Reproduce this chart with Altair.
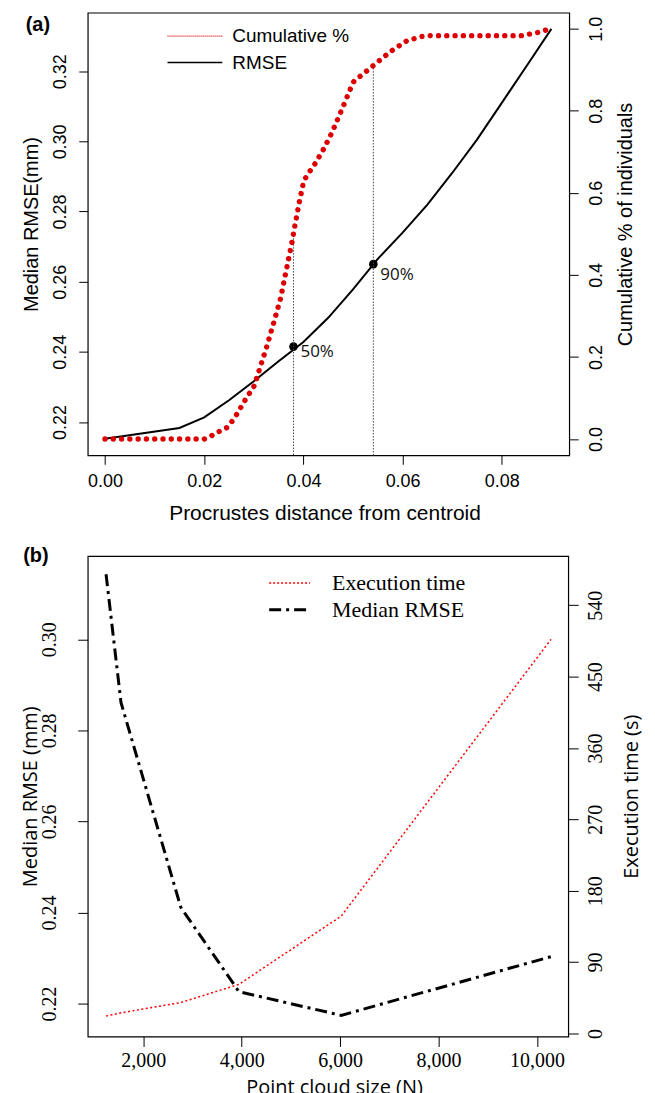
import altair as alt
import pandas as pd

# ---------------- Panel (a) data ----------------
rmse_dist = [0.000, 0.015, 0.020, 0.025, 0.030, 0.035, 0.040, 0.045, 0.050,
             0.055, 0.060, 0.065, 0.070, 0.075, 0.080, 0.085, 0.090]
rmse_vals = [0.2152, 0.2183, 0.2213, 0.2262, 0.2316, 0.2373, 0.2428, 0.2497, 0.2578,
             0.2665, 0.2740, 0.2820, 0.2910, 0.3005, 0.3110, 0.3215, 0.3321]

cum_dist = [0.0, 0.0200, 0.0216, 0.0231, 0.0246, 0.0256, 0.0265, 0.0283, 0.0301, 0.0311,
            0.0326, 0.0340, 0.0354, 0.0367, 0.0377, 0.0383, 0.0392, 0.0399, 0.0405, 0.0424,
            0.0441, 0.0456, 0.0469, 0.0482, 0.0495, 0.0502, 0.0528, 0.0554, 0.0580, 0.0608,
            0.0639, 0.0656, 0.0840, 0.0874, 0.0890, 0.0901]
cum_vals = [0.0, 0.0, 0.009, 0.019, 0.028, 0.043, 0.059, 0.096, 0.130, 0.168,
            0.225, 0.283, 0.343, 0.421, 0.480, 0.521, 0.579, 0.619, 0.638, 0.672,
            0.707, 0.743, 0.779, 0.816, 0.854, 0.872, 0.897, 0.923, 0.948, 0.970,
            0.981, 0.983, 0.983, 0.991, 0.997, 1.0]

marker_dist = [0.0380, 0.0541]
marker_rmse = [0.2415, 0.2650]
marker_cum = [0.504, 0.911]
marker_labels = ["50%", "90%"]

legend_a = ["Cumulative %", "RMSE"]
axis_a = {"x": "Procrustes distance from centroid", "left": "Median RMSE(mm)",
          "right": "Cumulative % of individuals"}
x_ticks_a = [0.0, 0.02, 0.04, 0.06, 0.08]
left_ticks_a = [0.22, 0.24, 0.26, 0.28, 0.30, 0.32]
right_ticks_a = [0.0, 0.2, 0.4, 0.6, 0.8, 1.0]

# ---------------- Panel (b) data ----------------
cloud_n = [1244, 1548, 2764, 3945, 6022, 10286]
median_rmse = [0.3143, 0.2861, 0.2411, 0.2226, 0.2174, 0.2303]
exec_time = [22, 26, 39, 62, 148, 497]

legend_b = ["Execution time", "Median RMSE"]
axis_b = {"x": "Point cloud size (N)", "left": "Median RMSE (mm)", "right": "Execution time (s)"}
x_ticks_b = [2000, 4000, 6000, 8000, 10000]
left_ticks_b = [0.22, 0.24, 0.26, 0.28, 0.30]
right_ticks_b = [0, 90, 180, 270, 360, 450, 540]

panel_labels = ["(a)", "(b)"]

SANS = "Liberation Sans"
SERIF = "Liberation Serif"
HUM = "Open Sans"
RED_A = "#dd0000"
RED_B = "#ff0000"

# ================= Panel (a) =================
WA, HA = 483, 444
df_rmse = pd.DataFrame({"x": rmse_dist, "rmse": rmse_vals})
df_cum = pd.DataFrame({"x": cum_dist, "cum": cum_vals})
df_mark = pd.DataFrame({"x": marker_dist, "rmse": marker_rmse, "cum": marker_cum, "lab": marker_labels})

xa = alt.X("x:Q", scale=alt.Scale(domain=[-0.00348, 0.0936], nice=False, zero=False),
           axis=alt.Axis(values=x_ticks_a, format=".2f", title=axis_a["x"],
                         labelFont=SANS, labelFontSize=18, labelBaseline="alphabetic",
                         labelPadding=22, tickSize=9, titleFont=SANS, titleFontSize=21,
                         titleFontWeight="normal", titleBaseline="alphabetic", titleY=64,
                         titleX=WA / 2 - 4))
ya_left = alt.Y("rmse:Q", scale=alt.Scale(domain=[0.2105, 0.3367], nice=False, zero=False),
                axis=alt.Axis(orient="left", values=left_ticks_a, format=".2f", title=axis_a["left"],
                              labelFont=SANS, labelFontSize=18, labelAngle=-90, labelAlign="center",
                              labelBaseline="alphabetic", labelPadding=13, tickSize=9,
                              titleFont=SANS, titleFontSize=20, titleFontWeight="normal",
                              titleAngle=270, titleBaseline="alphabetic", titleAlign="center",
                              titleX=-50.5, titleY=HA / 2 - 10))
ya_right = alt.Y("cum:Q", scale=alt.Scale(domain=[-0.0396, 1.0389], nice=False, zero=False),
                 axis=alt.Axis(orient="right", values=right_ticks_a, format=".1f", title=axis_a["right"],
                               labelFont=SANS, labelFontSize=18, labelAngle=-90, labelAlign="center",
                               labelBaseline="alphabetic", labelPadding=23, tickSize=9,
                               titleFont=SANS, titleFontSize=20, titleFontWeight="normal",
                               titleAngle=270, titleBaseline="alphabetic", titleAlign="center",
                               titleX=62, titleY=HA / 2 - 10))

rmse_line = alt.Chart(df_rmse).mark_line(color="black", strokeWidth=2).encode(x=xa, y=ya_left)
markers = alt.Chart(df_mark).mark_circle(color="black", size=75, opacity=1).encode(x=xa, y=ya_left)
lab50 = alt.Chart(df_mark.iloc[[0]]).mark_text(font=HUM, fontSize=17, align="left", baseline="middle",
                                               dx=7, dy=5, color="#111").encode(x=xa, y=ya_left, text="lab:N")
lab90 = alt.Chart(df_mark.iloc[[1]]).mark_text(font=HUM, fontSize=17, align="left", baseline="middle",
                                               dx=7, dy=11, color="#111").encode(x=xa, y=ya_left, text="lab:N")

leg_df_a = pd.DataFrame({"t": legend_a})
leg_a_line1 = alt.Chart(leg_df_a.iloc[[0]]).mark_rule(color=RED_A, strokeWidth=1.2, strokeDash=[1, 1]).encode(
    x=alt.value(80), x2=alt.value(135), y=alt.value(23.5))
leg_a_line2 = alt.Chart(leg_df_a.iloc[[1]]).mark_rule(color="black", strokeWidth=1.5).encode(
    x=alt.value(80), x2=alt.value(135), y=alt.value(50))
leg_a_t1 = alt.Chart(leg_df_a.iloc[[0]]).mark_text(font=SANS, fontSize=19, align="left", baseline="middle").encode(
    x=alt.value(145), y=alt.value(23.5), text="t:N")
leg_a_t2 = alt.Chart(leg_df_a.iloc[[1]]).mark_text(font=SANS, fontSize=19, align="left", baseline="middle").encode(
    x=alt.value(145), y=alt.value(50), text="t:N")
tag_a = alt.Chart(pd.DataFrame({"t": [panel_labels[0]]})).mark_text(
    font=SANS, fontSize=20, fontWeight="bold", align="center", baseline="middle").encode(
    x=alt.value(-50), y=alt.value(12), text="t:N")

left_a = alt.layer(rmse_line, markers, lab50, lab90, leg_a_line1, leg_a_line2, leg_a_t1, leg_a_t2, tag_a)

cum_line = alt.Chart(df_cum).mark_line(color=RED_A, strokeWidth=5.4, strokeDash=[0.01, 8.3],
                                       strokeCap="round").encode(x=xa, y=ya_right)
vrules = alt.Chart(df_mark).mark_rule(color="#444", strokeWidth=1, strokeDash=[1.5, 1.5]).encode(
    x=xa, y=ya_right, y2=alt.value(HA))
right_a = alt.layer(vrules, cum_line)

panel_a = alt.layer(left_a, right_a).resolve_scale(y="independent").properties(width=WA, height=HA)

# ================= Panel (b) =================
WB, HB = 482, 482
df_b = pd.DataFrame({"x": cloud_n, "rmse": median_rmse, "t": exec_time})

xb = alt.X("x:Q", scale=alt.Scale(domain=[872, 10636], nice=False, zero=False),
           axis=alt.Axis(values=x_ticks_b, format=",d", title=axis_b["x"],
                         labelFont=SERIF, labelFontSize=20, labelBaseline="alphabetic",
                         labelPadding=20, tickSize=10, titleFont=HUM, titleFontSize=20,
                         titleFontWeight="normal", titleBaseline="alphabetic", titleY=57,
                         titleX=WB / 2 + 6))
yb_left = alt.Y("rmse:Q", scale=alt.Scale(domain=[0.21276, 0.3183], nice=False, zero=False),
                axis=alt.Axis(orient="left", values=left_ticks_b, format=".2f", title=axis_b["left"],
                              labelFont=SERIF, labelFontSize=20, labelAngle=-90, labelAlign="center",
                              labelBaseline="alphabetic", labelPadding=22, tickSize=10,
                              titleFont=HUM, titleFontSize=20, titleFontWeight="normal",
                              titleAngle=270, titleBaseline="alphabetic", titleAlign="center",
                              titleX=-51, titleY=HB / 2))
yb_right = alt.Y("t:Q", scale=alt.Scale(domain=[-3.8, 602.1], nice=False, zero=False),
                 axis=alt.Axis(orient="right", values=right_ticks_b, format="d", title=axis_b["right"],
                               labelFont=SERIF, labelFontSize=20, labelAngle=-90, labelAlign="center",
                               labelBaseline="alphabetic", labelPadding=23, tickSize=10,
                               titleFont=HUM, titleFontSize=20, titleFontWeight="normal",
                               titleAngle=270, titleBaseline="alphabetic", titleAlign="center",
                               titleX=69, titleY=HB / 2))

rmse_b = alt.Chart(df_b).mark_line(color="black", strokeWidth=3, strokeDash=[12, 5, 3, 5]).encode(x=xb, y=yb_left)
leg_df_b = pd.DataFrame({"t": legend_b})
leg_b_line1 = alt.Chart(leg_df_b.iloc[[0]]).mark_rule(color=RED_B, strokeWidth=1.5, strokeDash=[2, 2]).encode(
    x=alt.value(182), x2=alt.value(223), y=alt.value(27))
leg_b_line2 = alt.Chart(leg_df_b.iloc[[1]]).mark_rule(color="black", strokeWidth=3, strokeDash=[12, 5, 3, 5]).encode(
    x=alt.value(182), x2=alt.value(224), y=alt.value(54))
leg_b_t1 = alt.Chart(leg_df_b.iloc[[0]]).mark_text(font=SERIF, fontSize=22, align="left", baseline="middle").encode(
    x=alt.value(245), y=alt.value(27), text="t:N")
leg_b_t2 = alt.Chart(leg_df_b.iloc[[1]]).mark_text(font=SERIF, fontSize=22, align="left", baseline="middle").encode(
    x=alt.value(245), y=alt.value(54), text="t:N")
tag_b = alt.Chart(pd.DataFrame({"t": [panel_labels[1]]})).mark_text(
    font=SANS, fontSize=20, fontWeight="bold", align="center", baseline="middle").encode(
    x=alt.value(-52), y=alt.value(0), text="t:N")
left_b = alt.layer(rmse_b, leg_b_line1, leg_b_line2, leg_b_t1, leg_b_t2, tag_b)

time_b = alt.Chart(df_b).mark_line(color=RED_B, strokeWidth=1.5, strokeDash=[2, 2.5]).encode(x=xb, y=yb_right)
right_b = alt.layer(time_b)

panel_b = alt.layer(left_b, right_b).resolve_scale(y="independent").properties(width=WB, height=HB)

chart = alt.vconcat(panel_a, panel_b, spacing=21).configure_view(
    stroke="black", strokeWidth=1.2
).configure_axis(
    grid=False, domain=False, tickColor="black", tickWidth=1, labelColor="black", titleColor="black"
).properties(padding={"left": 12, "top": 2, "right": 5, "bottom": 0})

chart.save("out.html", embed_options={"renderer": "svg", "actions": False})
